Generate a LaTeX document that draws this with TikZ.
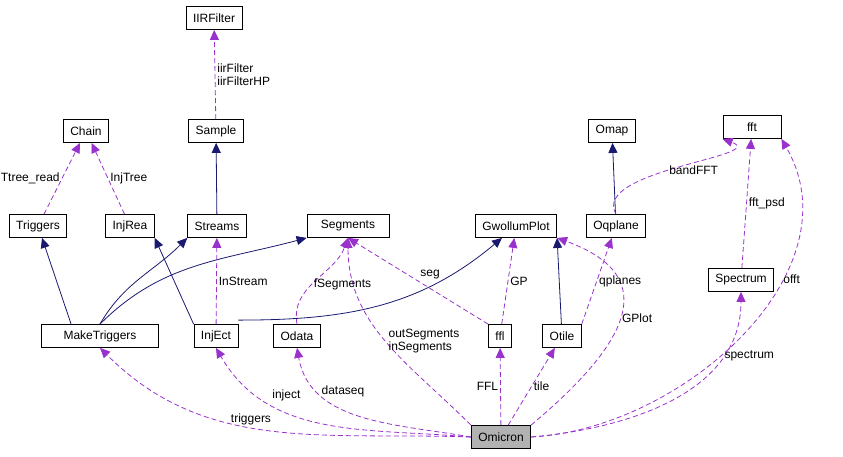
\documentclass[tikz,border=0pt]{standalone}
\usepackage{fontspec}
\setmainfont{Liberation Sans}
\usetikzlibrary{arrows.meta}

\begin{document}
\begin{tikzpicture}[x=1pt,y=-1pt,
  every node/.style={font=\fontsize{12}{13}\selectfont},
  cls/.style={draw,thick,minimum height=23pt,inner xsep=7pt},
  inh/.style={-{Triangle[length=10pt,width=9pt]},color={rgb,255:red,25;green,25;blue,112},thick},
  use/.style={-{Triangle[length=10pt,width=9pt]},color={rgb,255:red,153;green,50;blue,204},thick,dash pattern=on 5pt off 3pt},
  lbl/.style={text=black,inner sep=2pt}]
  \useasboundingbox (0,0) rectangle (843,456);

  %--- classes
  \node[cls] (iir) at (214,18) {IIRFilter};
  \node[cls] (chain) at (86,131) {Chain};
  \node[cls] (sample) at (216,131) {Sample};
  \node[cls] (omap) at (612,131) {Omap};
  \node[cls,minimum width=58pt] (fft) at (752,127) {fft};
  \node[cls] (trig) at (38,226) {Triggers};
  \node[cls] (injrea) at (130,226) {InjRea};
  \node[cls] (streams) at (217,226) {Streams};
  \node[cls,minimum width=82pt] (seg) at (348,226) {Segments};
  \node[cls] (gwol) at (516,226) {GwollumPlot};
  \node[cls] (oqp) at (616,226) {Oqplane};
  \node[cls] (spec) at (741,280) {Spectrum};
  \node[cls,minimum width=117pt] (mtrig) at (100,336) {MakeTriggers};
  \node[cls] (injec) at (216,336) {InjEct};
  \node[cls] (odata) at (297,336) {Odata};
  \node[cls] (ffl) at (500,336) {ffl};
  \node[cls] (otile) at (562,336) {Otile};
  \node[cls,fill=gray!60] (omic) at (501,437) {Omicron};

  %--- inheritance
  \draw[inh] (mtrig.north west) ++(30,0) -- (trig);
  \draw[inh] (mtrig.north) to[out=60,in=-135] (streams.south west);
  \draw[inh] (mtrig.north) to[out=45,in=-165] (seg.south west);
  \draw[inh] (injec.north west) -- (injrea.south east);
  \draw[inh] ([yshift=4pt]injec.north east) to[out=0,in=-140] ([xshift=-14pt]gwol.south);
  \draw[inh] (otile) -- (gwol.south east);
  \draw[inh] (streams) -- (sample);
  \draw[inh] (oqp) -- (omap);

  %--- usage from Omicron
  \draw[use] (omic.west) to[out=178,in=-45] node[lbl,pos=0.55,above] {triggers} (mtrig.south);
  \draw[use] (omic.west) to[out=175,in=-60] node[lbl,pos=0.72,above right] {inject} (injec.south);
  \draw[use] (omic.west) to[out=170,in=-80] node[lbl,pos=0.75,right] {dataseq} (odata.south);
  \draw[use] (omic.north west) to[out=135,in=-90] node[lbl,pos=0.5,right,align=left] {outSegments\\inSegments} (seg.south);
  \draw[use] (omic) -- node[lbl,left] {FFL} (ffl);
  \draw[use] (omic) -- node[lbl,right] {tile} (otile);
  \draw[use] (omic.north east) to[out=40,in=-20,looseness=1.6] node[lbl,pos=0.5,right] {GPlot} (gwol.south east);
  \draw[use] (omic.east) to[out=5,in=-90] node[lbl,pos=0.75,right] {spectrum} (spec.south);
  \draw[use] (omic.east) to[out=3,in=-60] node[lbl,pos=0.65,right] {offt} (fft.south east);

  %--- other usage
  \draw[use] (injec) -- node[lbl,right] {InStream} (streams);
  \draw[use] (odata.north) to[out=100,in=-110] node[lbl,pos=0.45,right] {fSegments} (seg.south);
  \draw[use] (ffl.north west) -- node[lbl,above right] {seg} (seg.south);
  \draw[use] (ffl) -- node[lbl,right] {GP} (gwol);
  \draw[use] (otile.north east) -- node[lbl,right] {qplanes} (oqp);
  \draw[use] (oqp.north) to[out=120,in=-20] node[lbl,pos=0.45,right] {bandFFT} (fft.south west);
  \draw[use] (spec) -- node[lbl,right] {fft\_psd} (fft);
  \draw[use] (trig) -- node[lbl,left] {Ttree\_read} (chain);
  \draw[use] (injrea) -- node[lbl,right] {InjTree} (chain);
  \draw[use] (sample) -- node[lbl,align=left,right] {iirFilter\\iirFilterHP} (iir);
\end{tikzpicture}
\end{document}
